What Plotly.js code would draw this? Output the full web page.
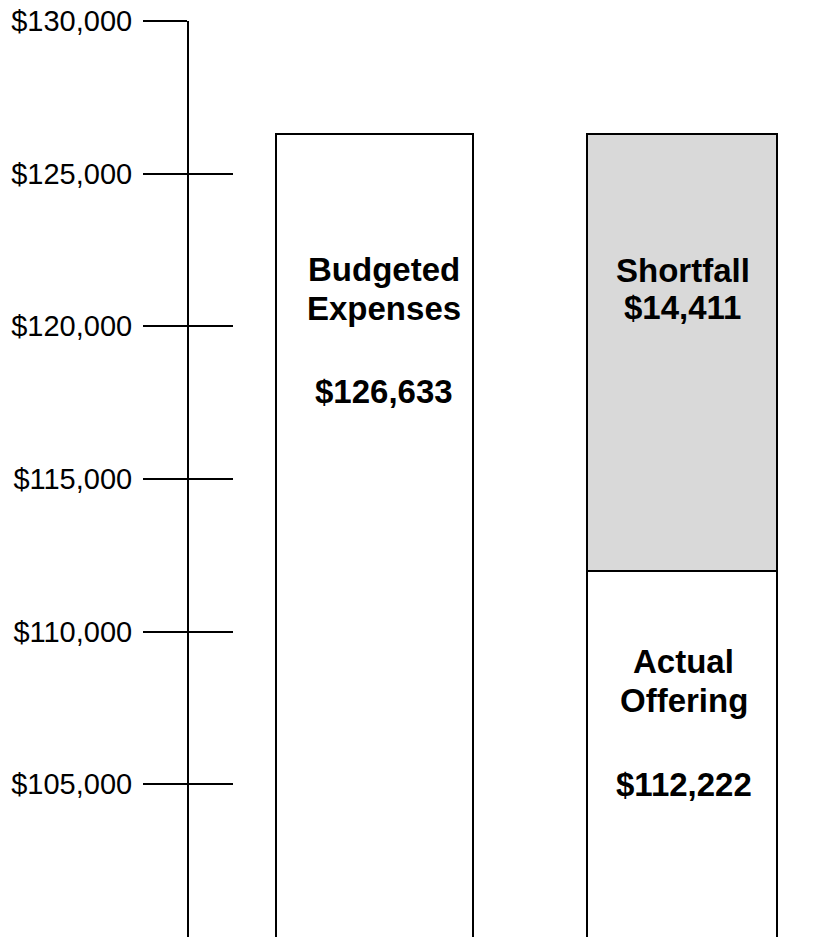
<!DOCTYPE html>
<html>
<head>
<meta charset="utf-8">
<script src="https://cdn.plot.ly/plotly-3.0.1.min.js"></script>
<style>html,body{margin:0;padding:0;background:#fff;}#chart{width:835px;height:937px;}</style>
</head>
<body>
<div id="chart"></div>
<script>
// Data
var categories = [0, 1];                       // 0 = Budgeted Expenses, 1 = Actual Offering
var budgetedValues = [126300, null];           // bar height as drawn
var offeringValues = [null, 112000];           // bar height as drawn
var shortfallValues = [null, 14300];           // stacked on top of offering
var tickValues = [105000, 110000, 115000, 120000, 125000, 130000];
var tickLabels = ["$105,000", "$110,000", "$115,000", "$120,000", "$125,000", "$130,000"];
var budgetLines = ["Budgeted", "Expenses", "$126,633"];
var shortfallLines = ["Shortfall", "$14,411"];
var offeringLines = ["Actual", "Offering", "$112,222"];

var lineStyle = {color: "#000", width: 2};
var traces = [
  {type: "bar", x: categories, y: budgetedValues, width: 0.64,
   marker: {color: "#ffffff", line: lineStyle}, hoverinfo: "skip"},
  {type: "bar", x: categories, y: offeringValues, width: 0.62,
   marker: {color: "#ffffff", line: lineStyle}, hoverinfo: "skip"},
  {type: "bar", x: categories, y: shortfallValues, width: 0.62,
   marker: {color: "#d9d9d9", line: lineStyle}, hoverinfo: "skip"},
  {type: "scatter", x: [null], y: [null], yaxis: "y2", mode: "markers", hoverinfo: "skip"}
];

var boldFont = {family: "Liberation Sans, Arial, sans-serif", size: 33, color: "#000"};
// [category, lines, label y positions, horizontal shift in px]
var linePos = [
  [categories[0], budgetLines, [121850, 120600, 117850], 10],
  [categories[1], shortfallLines, [121845, 120601], 1],
  [categories[1], offeringLines, [109007, 107760, 105011], 2]
];
var ann = [];
linePos.forEach(function(g){
  g[1].forEach(function(t, i){
    ann.push({x: g[0], y: g[2][i], xref: "x", yref: "y", yanchor: "middle", xshift: g[3],
      text: "<b>" + t + "</b>", showarrow: false, font: boldFont, align: "center"});
  });
});

var layout = {
  width: 835, height: 937,
  margin: {l: 189, r: 0, t: 21, b: 0, pad: 0},
  paper_bgcolor: "#fff", plot_bgcolor: "#fff",
  barmode: "stack",
  showlegend: false,
  xaxis: {range: [-0.603, 1.498], visible: false, fixedrange: true},
  yaxis: {
    range: [100000, 130000], tickvals: tickValues, ticktext: tickLabels,
    showgrid: false, zeroline: false,
    showline: true, linecolor: "#000", linewidth: 2,
    ticks: "outside", ticklen: 44, tickwidth: 2, tickcolor: "#000",
    tickfont: {family: "Liberation Sans, Arial, sans-serif", size: 29, color: "#000"},
    ticklabelstandoff: 5
  },
  yaxis2: {
    overlaying: "y", side: "left", anchor: "x",
    range: [100000, 130000], tickvals: tickValues,
    showgrid: false, zeroline: false, showline: false,
    ticks: "inside", ticklen: 44, tickwidth: 2, tickcolor: "#000",
    showticklabels: false
  },
  annotations: ann
};

Plotly.newPlot("chart", traces, layout, {staticPlot: true, displayModeBar: false});
</script>
</body>
</html>
